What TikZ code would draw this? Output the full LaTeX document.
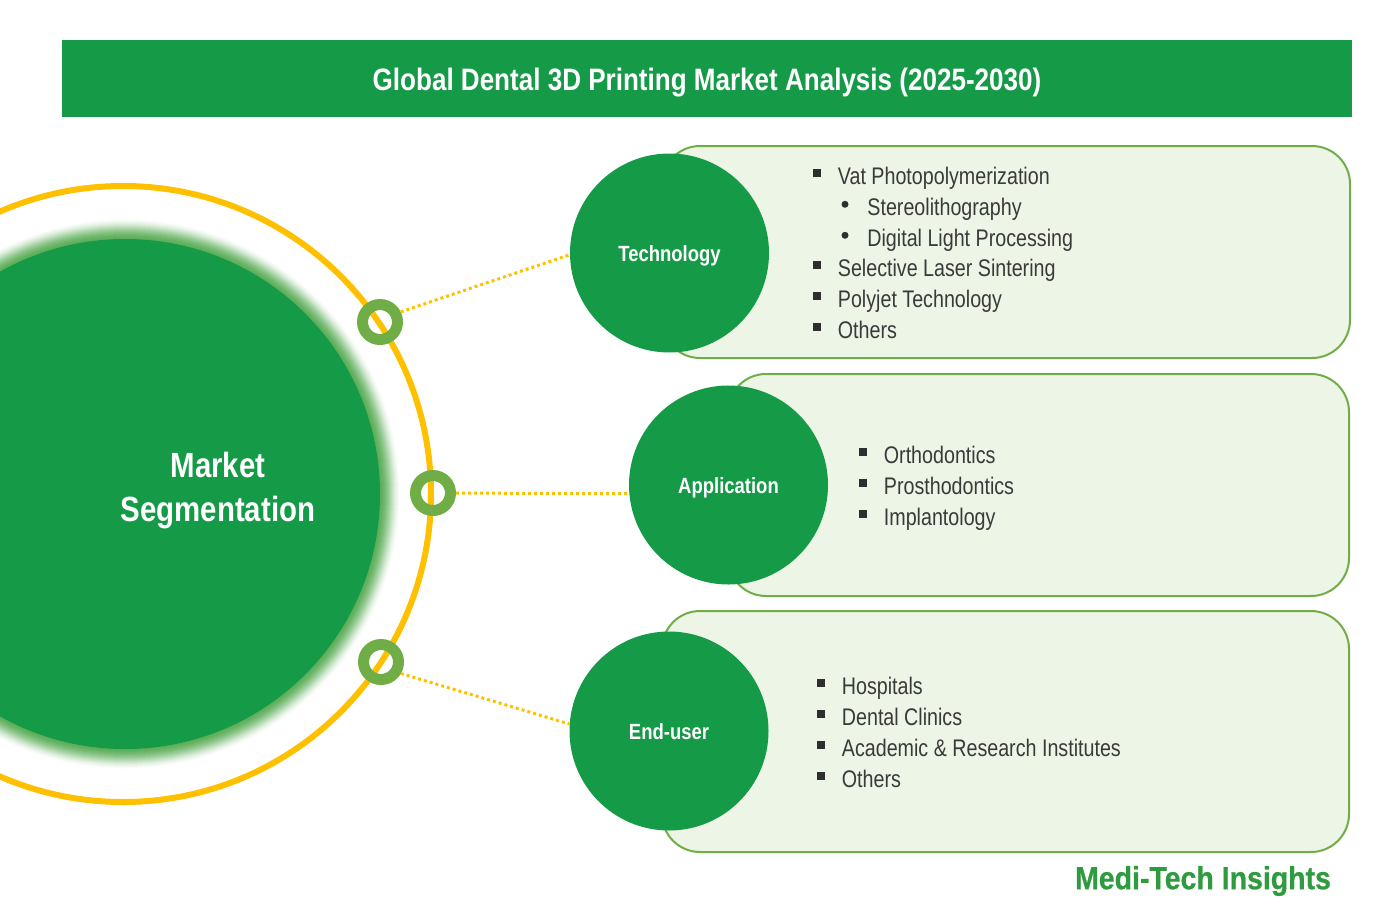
\documentclass[tikz,border=0pt]{standalone}
\usepackage{fontspec}
\setmainfont{Liberation Sans}
\newfontfamily\narrowfont[FakeStretch=0.82]{Liberation Sans}
\newfontfamily\boldnarrow[FakeStretch=0.84]{Liberation Sans}
\newfontfamily\logofont[FakeStretch=0.89,FakeBold=0.6]{Liberation Sans}
\usetikzlibrary{calc,positioning,shapes.geometric}
\definecolor{mainblue}{HTML}{159A48}
\definecolor{ringgreen}{HTML}{70AD47}
\definecolor{dotyellow}{HTML}{FFC000}
\definecolor{panelfill}{HTML}{EDF5E7}
\definecolor{itemgray}{HTML}{3A3A3A}
\definecolor{logogreen}{HTML}{2E9B3F}
\tikzset{
  panel/.style={draw=ringgreen,line width=2pt,fill=panelfill,rectangle,rounded corners=38pt,inner sep=0pt},
  segcircle/.style={circle,fill=mainblue,text=white,inner sep=0pt,minimum size=199pt,text height=16pt,text depth=0pt,font=\boldnarrow\bfseries\fontsize{22}{26}\selectfont},
  ringnode/.style={circle,draw=ringgreen,line width=11pt,inner sep=0pt,minimum size=35pt},
  dotline/.style={draw=dotyellow,line width=3pt,dash pattern=on 3pt off 3pt},
  itemtext/.style={inner sep=0pt,text=itemgray,yshift=-5pt,text height=17pt,text depth=5pt,font=\narrowfont\fontsize{24}{31}\selectfont},
  sqitem/.style={rectangle,fill=itemgray!80!black,inner sep=0pt,minimum size=8pt,label={[itemtext,label distance=16.5pt]right:{#1}}},
  dotitem/.style={circle,fill=itemgray!80!black,inner sep=0pt,minimum size=7pt,label={[itemtext,label distance=18.5pt]right:{#1}}}
}
\begin{document}
\begin{tikzpicture}[x=1pt,y=-1pt]
\useasboundingbox (0,0) rectangle (1383,907);
\clip (0,0) rectangle (1383,907);
\node[fill=mainblue,text=white,minimum width=1290pt,minimum height=77pt,inner sep=0pt,text height=23pt,text depth=0pt,font=\boldnarrow\bfseries\fontsize{31}{36}\selectfont] (title) at (707,78.5) {Global Dental 3D Printing Market Analysis (2025-2030)};
% panels
\node[panel,minimum width=688pt,minimum height=212pt] (techpanel) at (1006,252) {};
\node[panel,minimum width=621pt,minimum height=222pt] (apppanel) at (1038.5,485) {};
\node[panel,minimum width=687pt,minimum height=241pt] (endpanel) at (1005.5,731.5) {};
% big circle
\node[circle,draw=dotyellow,line width=6pt,inner sep=0pt,minimum size=616pt] (outerring) at (123,494) {};
\foreach \glowr [evaluate=\glowr as \glowop using 0.004+0.01*(276-\glowr)] in {256,257,...,275}
  \fill[ringgreen!60!mainblue,opacity=\glowop] (125,494) circle (\glowr pt);
\node[circle,fill=mainblue,inner sep=0pt,minimum size=510pt] (bigcircle) at (125,494) {};
\node[text=white,align=center,inner sep=0pt,font=\boldnarrow\bfseries\fontsize{35}{44}\selectfont] (bigtext) at (218,491) {Market\\Segmentation};
% segment circles
\node[segcircle] (tech) at (669.5,253) {Technology};
\node[segcircle] (app) at (728.5,485) {Application};
\node[segcircle] (enduser) at (669,731) {End-user};
% rings and links
\node[ringnode] (ringa) at (380,322) {};
\node[ringnode] (ringb) at (433,493) {};
\node[ringnode] (ringc) at (381,662) {};
\draw[dotline] (ringa.26) -- (tech.181);
\draw[dotline] (ringb) -- (app.185);
\draw[dotline] (ringc.-30) -- (enduser.176);
% technology list
\node[sqitem={Vat Photopolymerization}] (tech1) at (817,173) {};
\node[dotitem={Stereolithography}] (tech2) at (845,204.3) {};
\node[dotitem={Digital Light Processing}] (tech3) at (845,235.3) {};
\node[sqitem={Selective Laser Sintering}] (tech4) at (817,265.3) {};
\node[sqitem={Polyjet Technology}] (tech5) at (817,296.3) {};
\node[sqitem={Others}] (tech6) at (817,327.3) {};
% application list
\node[sqitem={Orthodontics}] (app1) at (863,452) {};
\node[sqitem={Prosthodontics}] (app2) at (863,483) {};
\node[sqitem={Implantology}] (app3) at (863,514) {};
% end-user list
\node[sqitem={Hospitals}] (end1) at (821,683) {};
\node[sqitem={Dental Clinics}] (end2) at (821,714) {};
\node[sqitem={Academic \& Research Institutes}] (end3) at (821,745) {};
\node[sqitem={Others}] (end4) at (821,776) {};
% logo
\node[text=logogreen,inner sep=0pt,font=\logofont\bfseries\fontsize{32}{36}\selectfont] (logo) at (1203,881) {Medi-Tech Insights};
\end{tikzpicture}
\end{document}
